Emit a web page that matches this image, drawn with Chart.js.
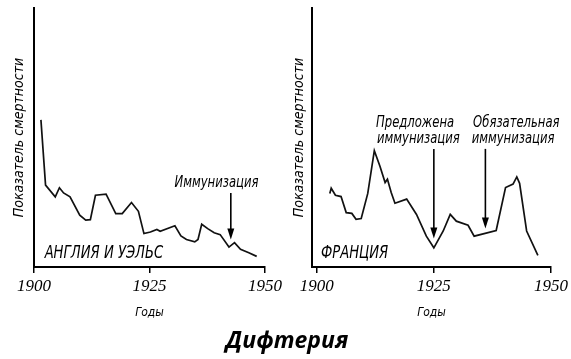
<!DOCTYPE html>
<html>
<head>
<meta charset="utf-8">
<script src="https://cdn.jsdelivr.net/npm/chart.js@4.4.0/dist/chart.umd.min.js"></script>
<style>
  body { margin: 0; background: #fff; width: 571px; height: 359px; overflow: hidden; position: relative; }
  .panel { position: absolute; top: 0; height: 325px; }
  #title { position: absolute; left: 0; width: 574px; top: 323px; text-align: center;
           font: italic bold 23px "Open Sans", sans-serif; color: #000; }
</style>
</head>
<body>
<div class="panel" style="left:0;width:285px"><canvas id="chartEng"></canvas></div>
<div class="panel" style="left:282px;width:289px"><canvas id="chartFra"></canvas></div>
<div id="title">Дифтерия</div>
<script>
// tick years on the x axis
const tickYears = [1900, 1925, 1950];

// England and Wales
const engYears = [1901.5, 1902.5, 1904.6, 1905.5, 1906.4, 1907.8, 1909.9, 1911.2, 1912.2, 1913.3, 1915.6,
  1917.7, 1919.1, 1921.1, 1922.6, 1923.8, 1925.2, 1926.6, 1927.3, 1930.5, 1931.8, 1933, 1934.8, 1935.5,
  1936.3, 1937.6, 1939, 1940.3, 1942.2, 1943.4, 1944.7, 1946.5, 1948.2];
const engRate = [56.8, 31.6, 27.1, 30.6, 28.6, 27.1, 20, 18.1, 18.3, 27.7, 28.1,
  20.6, 20.6, 24.9, 21.5, 12.9, 13.5, 14.5, 13.8, 15.9, 12, 10.6, 9.7, 10.6,
  16.5, 14.8, 13.2, 12.5, 7.7, 9.4, 6.8, 5.5, 4.1];

// France
const fraYears = [1902.8, 1903.1, 1904.0, 1905.2, 1906.3, 1907.5, 1908.4, 1909.5, 1910.9, 1912.3, 1913.5,
  1914.6, 1915.1, 1915.9, 1916.7, 1919.2, 1921.3, 1923.4, 1925, 1927, 1928.5, 1929.8, 1932.3, 1933.6,
  1938.3, 1940.3, 1941.9, 1942.7, 1943.3, 1944.8, 1947.2];
const fraRate = [28.4, 30.4, 27.7, 27.2, 21, 20.7, 18.4, 18.7, 28.4, 44.9, 38.9,
  32.6, 33.9, 28.8, 24.6, 26.2, 20.3, 11.9, 7.4, 13.9, 20.3, 17.7, 16.1, 11.9,
  14.1, 30.7, 32, 34.8, 32.3, 13.9, 4.5];

// annotations (year, value)
const engArrows = [{ x: 1942.6, from: 28.6, to: 10.6 }];
const engLabels = [
  { text: 'Иммунизация', x: 1939.5, y: 32.5, size: 15 },
  { text: 'АНГЛИЯ И УЭЛЬС', x: 1902.3, y: 5, size: 17, align: 'left' }
];
const fraArrows = [{ x: 1925, from: 45.6, to: 11 }, { x: 1936, from: 45.6, to: 14.9 }];
const fraLabels = [
  { text: 'Предложена', x: 1921, y: 55.7, size: 15 },
  { text: 'иммунизация', x: 1921.7, y: 49.5, size: 15 },
  { text: 'Обязательная', x: 1942.6, y: 55.7, size: 15 },
  { text: 'иммунизация', x: 1941.9, y: 49.5, size: 15 },
  { text: 'ФРАНЦИЯ', x: 1900.9, y: 5, size: 17, align: 'left' }
];

const narrow = '"Liberation Sans Narrow", "DejaVu Sans Condensed", "Liberation Sans", sans-serif';
const squeeze = 0.86;

const notesPlugin = {
  id: 'notes',
  afterDatasetsDraw(chart, args, opts) {
    const { ctx, scales: { x, y } } = chart;
    ctx.save();
    ctx.fillStyle = '#000';
    ctx.strokeStyle = '#000';
    (opts.labels || []).forEach(l => {
      ctx.save();
      ctx.font = 'italic ' + l.size + 'px ' + narrow;
      ctx.textAlign = l.align || 'center';
      ctx.textBaseline = 'middle';
      ctx.translate(x.getPixelForValue(l.x), y.getPixelForValue(l.y));
      ctx.scale(squeeze, 1);
      ctx.fillText(l.text, 0, 0);
      ctx.restore();
    });
    (opts.arrows || []).forEach(a => {
      const px = x.getPixelForValue(a.x);
      const y0 = y.getPixelForValue(a.from), y1 = y.getPixelForValue(a.to);
      ctx.lineWidth = 1.6;
      ctx.beginPath(); ctx.moveTo(px, y0); ctx.lineTo(px, y1 - 4); ctx.stroke();
      ctx.beginPath(); ctx.moveTo(px - 3.5, y1 - 11); ctx.lineTo(px, y1); ctx.lineTo(px + 3.5, y1 - 11);
      ctx.closePath(); ctx.fill();
    });
    ctx.restore();
  }
};

function makeChart(id, years, rate, xMin, yWidth, titlePad, padRight, arrows, labels) {
  return new Chart(document.getElementById(id), {
    type: 'line',
    data: {
      datasets: [{
        data: years.map((v, i) => ({ x: v, y: rate[i] })),
        borderColor: '#111',
        borderWidth: 1.7,
        pointRadius: 0,
        tension: 0,
        fill: false
      }]
    },
    options: {
      responsive: true,
      maintainAspectRatio: false,
      animation: false,
      layout: { padding: { left: 0, top: 8, right: padRight, bottom: 0 } },
      plugins: {
        legend: { display: false },
        tooltip: { enabled: false },
        notes: { arrows: arrows, labels: labels }
      },
      scales: {
        x: {
          type: 'linear',
          min: xMin,
          max: 1950,
          afterBuildTicks: s => { s.ticks = tickYears.map(v => ({ value: v })); },
          afterFit: s => { s.height = 58; },
          ticks: {
            color: '#000',
            padding: 3,
            maxRotation: 0,
            autoSkip: false,
            callback: v => String(v),
            font: { family: '"Liberation Serif", serif', style: 'italic', size: 17 }
          },
          grid: { display: true, drawOnChartArea: false, drawTicks: true, tickLength: 6, color: '#000', lineWidth: 1.5 },
          border: { display: true, color: '#000', width: 2 },
          title: {
            display: true,
            text: 'Годы',
            color: '#000',
            padding: { top: 0, bottom: 5 },
            font: { family: narrow, style: 'italic', size: 12 }
          }
        },
        y: {
          min: 0,
          max: 100,
          afterFit: s => { s.width = yWidth; },
          ticks: { display: false },
          grid: { display: false },
          border: { display: true, color: '#000', width: 2 },
          title: {
            display: true,
            text: 'Показатель смертности',
            color: '#000',
            padding: { top: titlePad, bottom: 0 },
            font: { family: narrow, style: 'italic', size: 14 }
          }
        }
      }
    },
    plugins: [notesPlugin]
  });
}

makeChart('chartEng', engYears, engRate, 1900, 34, 11, 17, engArrows, engLabels);
makeChart('chartFra', fraYears, fraRate, 1899, 30, 9, 19, fraArrows, fraLabels);
</script>
</body>
</html>
